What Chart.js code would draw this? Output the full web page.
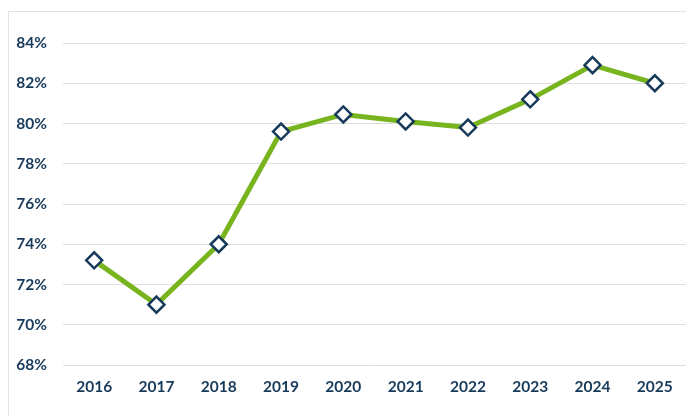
<!DOCTYPE html>
<html>
<head>
<meta charset="utf-8">
<script src="https://cdn.jsdelivr.net/npm/chart.js@4"></script>
<style>
    html, body { margin: 0; padding: 0; background: #fff; overflow: hidden; }
    #frame {
        position: absolute; left: 8px; top: 11px; width: 720px; height: 440px;
        border: 1px solid #e2e2e2; box-sizing: border-box;
    }
    #wrap { position: absolute; left: 0; top: 0; width: 686px; height: 416px; }
</style>
</head>
<body>
<div id="frame"></div>
<div id="wrap"><canvas id="chart" width="686" height="416"></canvas></div>
<script>
// Chart data
const years = ['2016', '2017', '2018', '2019', '2020', '2021', '2022', '2023', '2024', '2025'];
const rates = [73.2, 71.0, 74.0, 79.6, 80.45, 80.1, 79.8, 81.2, 82.9, 82.0];
const yMin = 68;
const yMax = 84;
const yStep = 2;

const navy = '#173a5a';
const green = '#78b41e';
const labelFont = { family: 'Lato', size: 15.5, weight: 'bold' };

const ctx = document.getElementById('chart').getContext('2d');
new Chart(ctx, {
    type: 'line',
    data: {
        labels: years,
        datasets: [{
            data: rates,
            borderColor: green,
            borderWidth: 5,
            tension: 0,
            pointStyle: 'rectRot',
            pointRadius: 8,
            pointBackgroundColor: '#ffffff',
            pointBorderColor: navy,
            pointBorderWidth: 2.5
        }]
    },
    options: {
        responsive: false,
        animation: false,
        layout: { autoPadding: false, padding: { left: 0, right: 0, top: 43, bottom: 0 } },
        plugins: {
            legend: { display: false },
            tooltip: { enabled: false }
        },
        scales: {
            x: {
                offset: true,
                grid: { display: false },
                border: { display: false },
                afterFit: scale => { scale.height = 51; },
                ticks: {
                    color: navy,
                    padding: 5,
                    font: labelFont
                }
            },
            y: {
                min: yMin,
                max: yMax,
                grid: { color: '#dedede', lineWidth: 1, drawTicks: false },
                border: { display: false },
                afterFit: scale => { scale.width = 63; },
                ticks: {
                    stepSize: yStep,
                    color: navy,
                    padding: 16,
                    font: labelFont,
                    callback: v => v + '%'
                }
            }
        }
    }
});
</script>
</body>
</html>
